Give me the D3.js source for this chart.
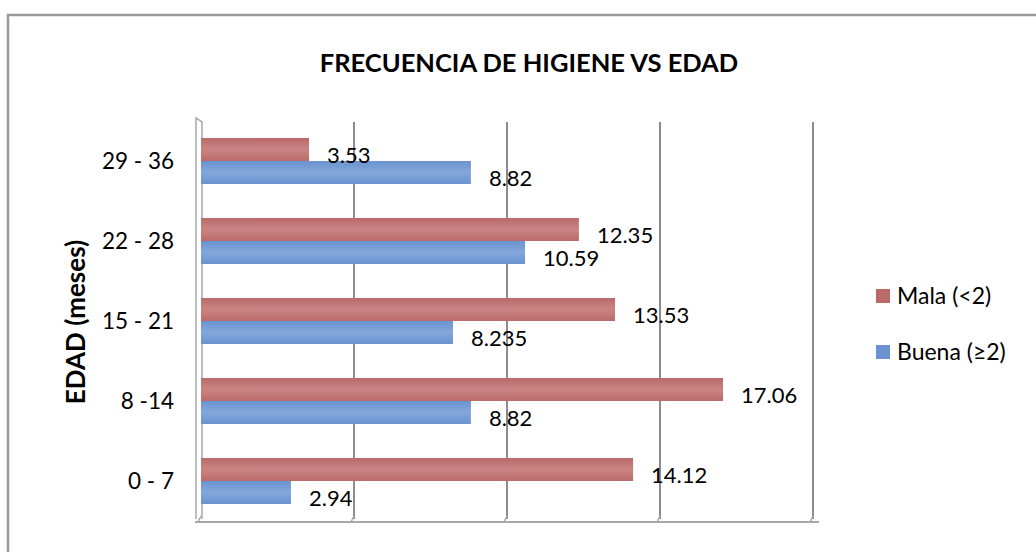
<!DOCTYPE html>
<html>
<head>
<meta charset="utf-8">
<script src="https://cdn.jsdelivr.net/npm/d3@7"></script>
<style>
  body { margin: 0; background: #fff; }
  text { font-family: Lato, "Open Sans", sans-serif; fill: #000; }
</style>
</head>
<body>
<svg id="chart" width="1036" height="552"></svg>
<script>
// categories top to bottom as drawn
const categories = ['29 - 36', '22 - 28', '15 - 21', '8 -14', '0 - 7'];
const malaValues = [3.53, 12.35, 13.53, 17.06, 14.12];
const buenaValues = [8.82, 10.59, 8.235, 8.82, 2.94];
const malaLabels = ['3.53', '12.35', '13.53', '17.06', '14.12'];
const buenaLabels = ['8.82', '10.59', '8.235', '8.82', '2.94'];
const gridTicks = [5, 10, 15, 20];
const seriesNames = ['Mala (<2)', 'Buena (≥2)'];

const colors = { mala: '#BA6A69', buena: '#6A93CF' };

let svg = d3.select('#chart');

// outer frame
svg.append('path')
  .attr('d', 'M8,560 L8,15 L1040,15')
  .style('fill', 'none')
  .style('stroke', '#9a9a9c')
  .style('stroke-width', 2.5);

let x = d3.scaleLinear().domain([0, 20]).range([201, 813]);
let y = d3.scaleBand().domain(categories).range([121, 521]).paddingInner(0.425).paddingOuter(0.2125);

let defs = svg.append('defs');
[['mala', colors.mala, '#c98583'], ['buena', colors.buena, '#84a7da']].forEach(([id, c, hi]) => {
  let g = defs.append('linearGradient').attr('id', 'g-' + id).attr('x1', 0).attr('x2', 0).attr('y1', 0).attr('y2', 1);
  g.append('stop').attr('offset', '0%').attr('stop-color', c);
  g.append('stop').attr('offset', '50%').attr('stop-color', hi);
  g.append('stop').attr('offset', '100%').attr('stop-color', c);
});

// gridlines (back wall)
svg.append('g')
  .selectAll('line')
  .data(gridTicks)
  .join('line')
  .attr('x1', d => x(d)).attr('x2', d => x(d))
  .attr('y1', 122).attr('y2', 519)
  .style('stroke', '#8c8c90')
  .style('stroke-width', 2);

// left wall
svg.append('path')
  .attr('d', `M${x(0) - 5},519 L${x(0) - 5},118 L${x(0) + 1},122 L${x(0) + 1},519`)
  .style('fill', 'none')
  .style('stroke', '#a8a8ac')
  .style('stroke-width', 1.5);

// floor
svg.append('path')
  .attr('d', `M${x(0) - 6},522 L${x(20) + 6},522`)
  .style('stroke', '#a8a8ac')
  .style('stroke-width', 2);
svg.append('g')
  .selectAll('line')
  .data([0].concat(gridTicks))
  .join('line')
  .attr('x1', d => x(d) - 3).attr('x2', d => x(d))
  .attr('y1', 522).attr('y2', 516)
  .style('stroke', '#a8a8ac')
  .style('stroke-width', 1.5);

let half = y.bandwidth() / 2;

let bars = svg.append('g');
bars.selectAll('rect.mala')
  .data(categories)
  .join('rect')
  .attr('class', 'mala')
  .attr('x', x(0))
  .attr('y', d => y(d))
  .attr('width', (d, i) => x(malaValues[i]) - x(0))
  .attr('height', half)
  .style('fill', 'url(#g-mala)');
bars.selectAll('rect.buena')
  .data(categories)
  .join('rect')
  .attr('class', 'buena')
  .attr('x', x(0))
  .attr('y', d => y(d) + half)
  .attr('width', (d, i) => x(buenaValues[i]) - x(0))
  .attr('height', half)
  .style('fill', 'url(#g-buena)');

// value labels
let labels = svg.append('g').style('font-size', '22px');
labels.selectAll('text.mala')
  .data(categories)
  .join('text')
  .attr('x', (d, i) => x(malaValues[i]) + 18)
  .attr('y', d => y(d) + half / 2 + 13)
  .text((d, i) => malaLabels[i]);
labels.selectAll('text.buena')
  .data(categories)
  .join('text')
  .attr('x', (d, i) => x(buenaValues[i]) + 18)
  .attr('y', d => y(d) + half * 1.5 + 13)
  .text((d, i) => buenaLabels[i]);

// category labels
svg.append('g')
  .selectAll('text')
  .data(categories)
  .join('text')
  .attr('x', 174)
  .attr('y', d => y(d) + half + 8)
  .attr('text-anchor', 'end')
  .style('font-size', '22.5px')
  .text(d => d);

// title
svg.append('text')
  .attr('x', 529)
  .attr('y', 72)
  .attr('text-anchor', 'middle')
  .style('font-size', '25.5px')
  .style('font-weight', 'bold')
  .text('FRECUENCIA DE HIGIENE VS EDAD');

// axis title
svg.append('text')
  .attr('transform', 'translate(85,322) rotate(-90)')
  .attr('text-anchor', 'middle')
  .style('font-size', '26px')
  .style('font-weight', 'bold')
  .text('EDAD (meses)');

// legend
let legend = svg.append('g');
[[colors.mala, 296], [colors.buena, 352]].forEach(([c, cy], i) => {
  legend.append('rect')
    .attr('x', 876).attr('y', cy - 7)
    .attr('width', 14).attr('height', 14)
    .style('fill', c);
  legend.append('text')
    .attr('x', 897).attr('y', cy + 8)
    .style('font-size', '23px')
    .text(seriesNames[i]);
});
</script>
</body>
</html>
